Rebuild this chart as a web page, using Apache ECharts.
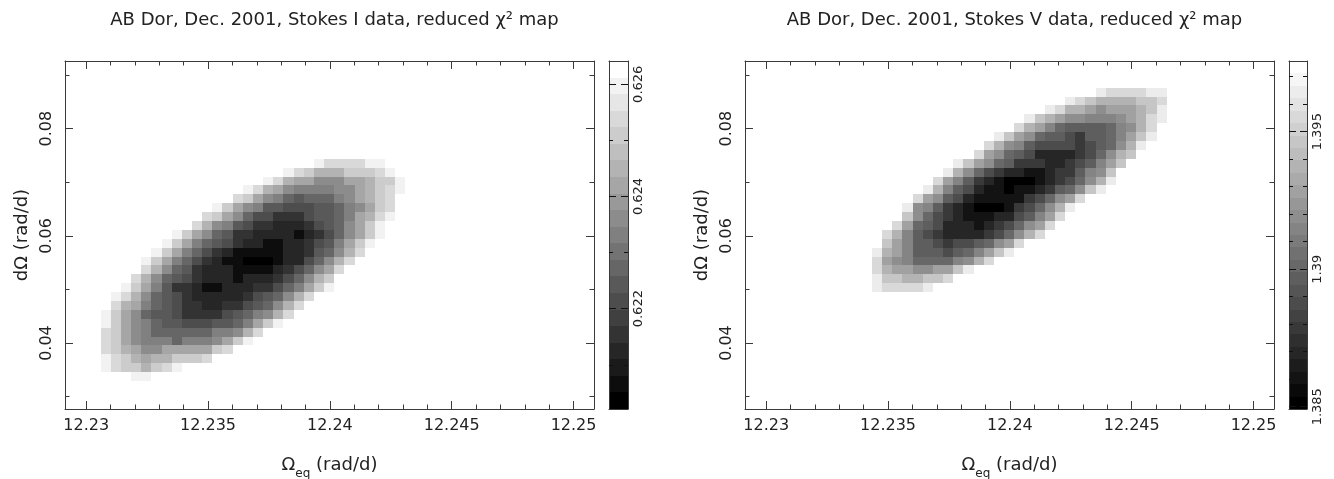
<!DOCTYPE html>
<html>
<head>
<meta charset="utf-8">
<script src="https://cdn.jsdelivr.net/npm/echarts@6/dist/echarts.min.js"></script>
<style>
html,body{margin:0;padding:0;background:#fff;}
#chart{width:1334px;height:479px;}
</style>
</head>
<body>
<div id="chart"></div>
<script>
// ------------------------------------------------------------------
// DATA
// ------------------------------------------------------------------
const titleI = 'AB Dor, Dec. 2001, Stokes I data, reduced χ² map';
const titleV = 'AB Dor, Dec. 2001, Stokes V data, reduced χ² map';

// grid of the chi^2 maps: column j centre = omegaEqStart + j*omegaEqStep,
// row k spans [dOmegaTop-(k+1)*dOmegaStep, dOmegaTop-k*dOmegaStep]
const omegaEqStart = 12.22913;
const omegaEqStep = 0.000417;
const dOmegaTop = 0.092611;
const dOmegaStep = 0.0016583;

const xRange = [12.22913, 12.25084];
const yRange = [0.027698, 0.092611];
const xTicks = [12.23, 12.235, 12.24, 12.245, 12.25];
const xMinorTicks = [12.231, 12.232, 12.233, 12.234, 12.236, 12.237, 12.238, 12.239,
                     12.241, 12.242, 12.243, 12.244, 12.246, 12.247, 12.248, 12.249];
const yTicks = [0.04, 0.06, 0.08];
const yMinorTicks = [0.03, 0.05, 0.07, 0.09];

// colour bars
const cbIRange = [0.620212, 0.626415];
const cbITicks = [0.622, 0.624, 0.626];
const cbIMinorTicks = [0.621, 0.623, 0.625];
const cbIBands = 21;
const cbVRange = [1.384917, 1.397571];
const cbVTicks = [1.385, 1.39, 1.395];
const cbVMinorTicks = [1.386, 1.387, 1.388, 1.389, 1.391, 1.392, 1.393, 1.394, 1.396, 1.397];
const cbVBands = 28;

// grey shade read for each cell code
const cellGrey = {'0':0x00,'1':0x11,'2':0x22,'3':0x36,'4':0x48,'5':0x5a,'6':0x6c,
                  '7':0x80,'8':0x90,'9':0xa0,'a':0xb4,'b':0xc8,'c':0xd8,'d':0xee};

// Stokes I map: [row k, first column j, cell codes]
const mapIRows = [
  [11, 25, 'dccccdd'],
  [12, 22, 'dcbaaabbbcd'],
  [13, 20, 'dca9988899abbd'],
  [14, 18, 'dca987777889abcd'],
  [15, 17, 'cb98765666789abc'],
  [16, 15, 'db98755444556789bc'],
  [17, 14, 'cb98644333455679acd'],
  [18, 13, 'ca875433222345689bd'],
  [19, 11, 'db98653322221234689bd'],
  [20, 10, 'db97654322112234579bd'],
  [21, 9,  'db97643211111223568ac'],
  [22, 8,  'db97643211000122468ac'],
  [23, 8,  'ca86532221111234689c'],
  [24, 7,  'ca8654322212223468ab'],
  [25, 6,  'db97533211222334679bd'],
  [26, 5,  'dca865432222234568ac'],
  [27, 5,  'ca976543322334568ac'],
  [28, 4,  'db986554333345678ac'],
  [29, 4,  'db98765544455679bd'],
  [30, 4,  'cb987666666778ac'],
  [31, 4,  'cb98777677789bd'],
  [32, 4,  'cba98899999bc'],
  [33, 4,  'dcba9aabbbc'],
  [34, 4,  'dcbbabcd'],
  [35, 7,  'dd']
];

// Stokes V map
const mapVRows = [
  [3, 35, 'dccccdd'],
  [4, 32, 'dcbaaaabbc'],
  [5, 30, 'dcaa98999abd'],
  [6, 28, 'dba98877789acd'],
  [7, 27, 'ca9765555678ac'],
  [8, 25, 'db986554355679bd'],
  [9, 24, 'ca875444434568ad'],
  [10, 23, 'c9865422223468ab'],
  [11, 21, 'db98653332234579b'],
  [12, 20, 'da86432211233578b'],
  [13, 19, 'c975321000123468ad'],
  [14, 18, 'da75421101123568bd'],
  [15, 17, 'c985421111134689c'],
  [16, 16, 'd87532100013468ad'],
  [17, 16, 'b86432111224579c'],
  [18, 15, 'c96542221234689c'],
  [19, 14, 'ca754322223468ac'],
  [20, 14, 'b975543445689c'],
  [21, 13, 'da9755545679bd'],
  [22, 13, 'c987666678ac'],
  [23, 13, 'ca998899bd'],
  [24, 13, 'dbbaabbc'],
  [25, 13, 'dccccd']
];

// ------------------------------------------------------------------
// helpers
// ------------------------------------------------------------------
const FONT = 'DejaVu Sans';
const FRAME = '#3a3a3a';
const TEXT = '#222';

function hexGrey(v) {
  const h = v.toString(16).padStart(2, '0');
  return '#' + h + h + h;
}
function bandGrey(b, n) { return hexGrey(Math.round(b * 255 / (n - 1))); }

function mapData(rows, range, nBands) {
  const bw = (range[1] - range[0]) / nBands;
  const out = [];
  rows.forEach(([k, j0, codes]) => {
    const y = dOmegaTop - (k + 0.5) * dOmegaStep;
    for (let i = 0; i < codes.length; i++) {
      const g = cellGrey[codes[i]];
      const band = Math.round(g / 255 * (nBands - 1));
      const x = omegaEqStart + (j0 + i) * omegaEqStep;
      out.push([x, y, range[0] + (band + 0.5) * bw]);
    }
  });
  return out;
}
function barData(range, nBands) {
  const bw = (range[1] - range[0]) / nBands;
  const out = [];
  for (let b = 0; b < nBands; b++) {
    out.push([range[0] + b * bw, range[0] + (b + 1) * bw, range[0] + (b + 0.5) * bw]);
  }
  return out;
}
function pieces(range, nBands) {
  const bw = (range[1] - range[0]) / nBands;
  const out = [];
  for (let b = 0; b < nBands; b++) {
    out.push({gte: range[0] + b * bw - 1e-9, lt: range[0] + (b + 1) * bw + (b === nBands - 1 ? 1 : 0),
              color: bandGrey(b, nBands)});
  }
  return out;
}
const fmt = v => String(parseFloat((+v).toFixed(4)));

function cellItem(params, api) {
  const x = api.value(0), y = api.value(1);
  const p0 = api.coord([x - omegaEqStep / 2, y + dOmegaStep / 2]);
  const p1 = api.coord([x + omegaEqStep / 2, y - dOmegaStep / 2]);
  const x0 = Math.round(p0[0]), x1 = Math.round(p1[0]);
  const y0 = Math.round(p0[1]), y1 = Math.round(p1[1]);
  return {type: 'rect', shape: {x: x0, y: y0, width: x1 - x0, height: y1 - y0},
          style: {fill: api.visual('color')}};
}
function bandItem(params, api) {
  const lo = api.value(0), hi = api.value(1);
  const p0 = api.coord([0, hi]);
  const p1 = api.coord([1, lo]);
  const y0 = Math.round(p0[1]), y1 = Math.round(p1[1]);
  return {type: 'rect', shape: {x: p0[0], y: y0, width: p1[0] - p0[0], height: y1 - y0},
          style: {fill: api.visual('color')}};
}

// ------------------------------------------------------------------
// layout: grids
// ------------------------------------------------------------------
const grids = [
  {left: 65, top: 61, width: 529, height: 348, outerBoundsMode: 'none', containLabel: false},
  {left: 609, top: 61, width: 19, height: 348, outerBoundsMode: 'none', containLabel: false},
  {left: 745, top: 61, width: 529, height: 348, outerBoundsMode: 'none', containLabel: false},
  {left: 1289, top: 61, width: 18, height: 348, outerBoundsMode: 'none', containLabel: false}
];

const xAxes = [], yAxes = [];
function lineCfg(show) { return {show: show, onZero: false, lineStyle: {color: FRAME, width: 1}}; }
function tickCfg(values, len, color) {
  return {show: true, inside: true, length: len, customValues: values, lineStyle: {color: color || FRAME, width: 1}};
}
const noLabel = {show: false};

function addMainAxes(g) {
  const xc = {gridIndex: g, type: 'value', min: xRange[0], max: xRange[1], splitLine: {show: false}, z: 5};
  const yc = {gridIndex: g, type: 'value', min: yRange[0], max: yRange[1], splitLine: {show: false}, z: 5};
  const xi = xAxes.length, yi = yAxes.length;
  xAxes.push(Object.assign({}, xc, {
    position: 'bottom', axisLine: lineCfg(true), axisTick: tickCfg(xTicks, 8),
    axisLabel: {show: true, customValues: xTicks, margin: 9, fontSize: 16, fontFamily: FONT, color: TEXT, formatter: fmt},
    name: '{n|Ω}{s|eq}{n| (rad/d)}', nameLocation: 'middle', nameGap: 41,
    nameTextStyle: {color: TEXT, fontFamily: FONT, rich: {
      n: {fontSize: 18, fontFamily: FONT, color: TEXT, lineHeight: 22},
      s: {fontSize: 12, fontFamily: FONT, color: TEXT, lineHeight: 30, verticalAlign: 'bottom'}}}
  }));
  xAxes.push(Object.assign({}, xc, {position: 'bottom', axisLine: lineCfg(false), axisTick: tickCfg(xMinorTicks, 4.5), axisLabel: noLabel}));
  xAxes.push(Object.assign({}, xc, {position: 'top', axisLine: lineCfg(true), axisTick: tickCfg(xTicks, 8), axisLabel: noLabel}));
  xAxes.push(Object.assign({}, xc, {position: 'top', axisLine: lineCfg(false), axisTick: tickCfg(xMinorTicks, 4.5), axisLabel: noLabel}));

  yAxes.push(Object.assign({}, yc, {
    position: 'left', axisLine: lineCfg(true), axisTick: tickCfg(yTicks, 8),
    axisLabel: {show: true, customValues: yTicks, rotate: 90, margin: 10, fontSize: 16, fontFamily: FONT, color: TEXT, formatter: fmt},
    name: 'dΩ (rad/d)', nameLocation: 'middle', nameGap: 34,
    nameTextStyle: {color: TEXT, fontFamily: FONT, fontSize: 18}
  }));
  yAxes.push(Object.assign({}, yc, {position: 'left', axisLine: lineCfg(false), axisTick: tickCfg(yMinorTicks, 4.5), axisLabel: noLabel}));
  yAxes.push(Object.assign({}, yc, {position: 'right', axisLine: lineCfg(true), axisTick: tickCfg(yTicks, 8), axisLabel: noLabel}));
  yAxes.push(Object.assign({}, yc, {position: 'right', axisLine: lineCfg(false), axisTick: tickCfg(yMinorTicks, 4.5), axisLabel: noLabel}));
  return [xi, yi];
}

function addBarAxes(g, range, ticks, minor) {
  const xc = {gridIndex: g, type: 'value', min: 0, max: 1, splitLine: {show: false}, axisTick: {show: false}, axisLabel: noLabel, z: 5};
  const yc = {gridIndex: g, type: 'value', min: range[0], max: range[1], splitLine: {show: false}, z: 5};
  const xi = xAxes.length, yi = yAxes.length;
  xAxes.push(Object.assign({}, xc, {position: 'bottom', axisLine: lineCfg(true)}));
  xAxes.push(Object.assign({}, xc, {position: 'top', axisLine: lineCfg(true)}));
  yAxes.push(Object.assign({}, yc, {
    position: 'right', axisLine: lineCfg(true), axisTick: tickCfg(ticks, 7, '#111'),
    axisLabel: {show: true, customValues: ticks, rotate: 90, margin: 4, fontSize: 13, fontFamily: FONT, color: TEXT, formatter: fmt}
  }));
  yAxes.push(Object.assign({}, yc, {position: 'right', axisLine: lineCfg(false), axisTick: tickCfg(minor, 4, '#111'), axisLabel: noLabel}));
  yAxes.push(Object.assign({}, yc, {position: 'left', axisLine: lineCfg(true), axisTick: tickCfg(ticks, 7, '#111'), axisLabel: noLabel}));
  yAxes.push(Object.assign({}, yc, {position: 'left', axisLine: lineCfg(false), axisTick: tickCfg(minor, 4, '#111'), axisLabel: noLabel}));
  return [xi, yi];
}

const aI = addMainAxes(0);
const bI = addBarAxes(1, cbIRange, cbITicks, cbIMinorTicks);
const aV = addMainAxes(2);
const bV = addBarAxes(3, cbVRange, cbVTicks, cbVMinorTicks);

const option = {
  animation: false,
  backgroundColor: '#fff',
  title: [
    {text: titleI, left: 329.5, top: 6, textAlign: 'center',
     textStyle: {fontFamily: FONT, fontSize: 18, fontWeight: 'normal', color: TEXT}},
    {text: titleV, left: 1009.5, top: 6, textAlign: 'center',
     textStyle: {fontFamily: FONT, fontSize: 18, fontWeight: 'normal', color: TEXT}}
  ],
  grid: grids,
  xAxis: xAxes,
  yAxis: yAxes,
  visualMap: [
    {type: 'piecewise', show: false, dimension: 2, seriesIndex: [0, 1], pieces: pieces(cbIRange, cbIBands)},
    {type: 'piecewise', show: false, dimension: 2, seriesIndex: [2, 3], pieces: pieces(cbVRange, cbVBands)}
  ],
  series: [
    {type: 'custom', name: 'Stokes I', xAxisIndex: aI[0], yAxisIndex: aI[1], clip: true,
     renderItem: cellItem, data: mapData(mapIRows, cbIRange, cbIBands)},
    {type: 'custom', name: 'Stokes I bar', xAxisIndex: bI[0], yAxisIndex: bI[1], clip: true,
     renderItem: bandItem, data: barData(cbIRange, cbIBands)},
    {type: 'custom', name: 'Stokes V', xAxisIndex: aV[0], yAxisIndex: aV[1], clip: true,
     renderItem: cellItem, data: mapData(mapVRows, cbVRange, cbVBands)},
    {type: 'custom', name: 'Stokes V bar', xAxisIndex: bV[0], yAxisIndex: bV[1], clip: true,
     renderItem: bandItem, data: barData(cbVRange, cbVBands)}
  ]
};

const chart = echarts.init(document.getElementById('chart'), null, {renderer: 'canvas'});
chart.setOption(option);
</script>
</body>
</html>
